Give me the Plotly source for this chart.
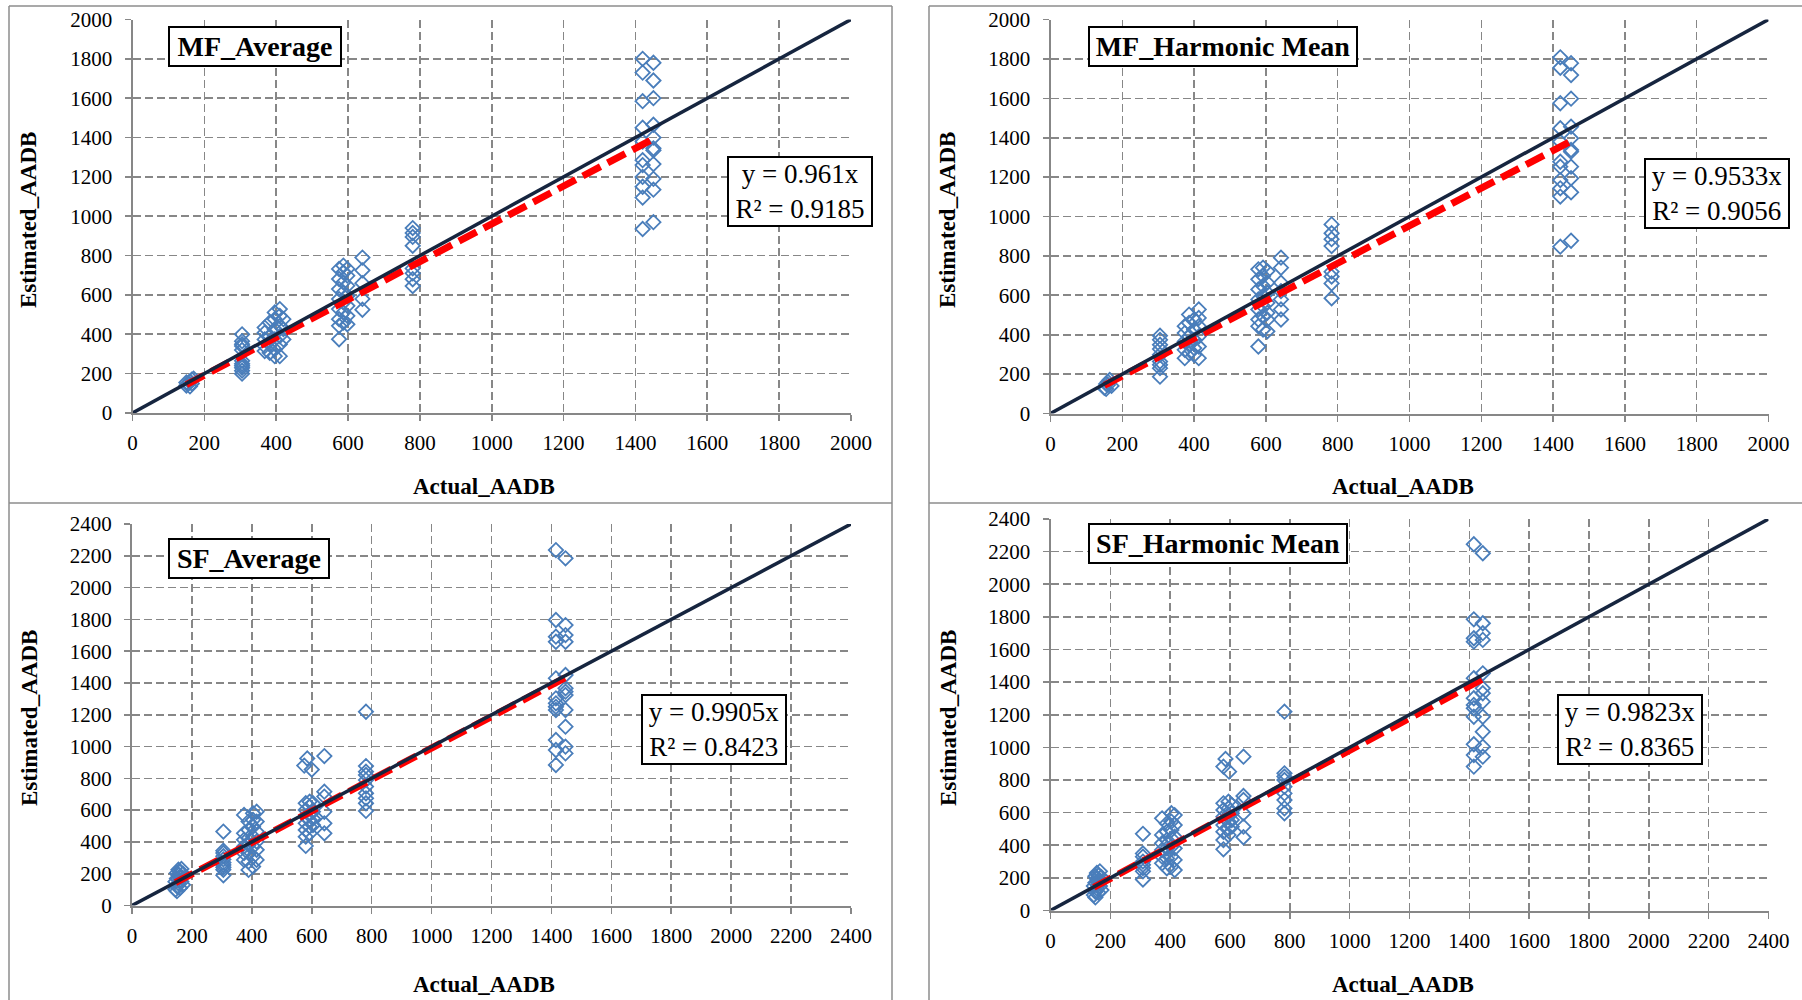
import plotly.graph_objects as go

W, H = 1802, 1000

# ---------------- DATA ----------------
titles = ["MF_Average", "MF_Harmonic Mean", "SF_Average", "SF_Harmonic Mean"]
slopes = [0.961, 0.9533, 0.9905, 0.9823]
r2_values = [0.9185, 0.9056, 0.8423, 0.8365]
axis_max = [2000, 2000, 2400, 2400]

mf_avg_x = ([150, 155, 160, 165, 150, 160, 170, 165]
            + [305] * 11
            + [368] * 5 + [382] * 4 + [396] * 6 + [410] * 6 + [420] * 3
            + [575] * 8 + [587] * 7 + [598] * 7
            + [640] * 5 + [780] * 8 + [1420] * 11 + [1450] * 11)
mf_avg_y = ([140, 150, 160, 170, 155, 135, 175, 150]
            + [400, 365, 350, 340, 320, 265, 250, 240, 230, 215, 200]
            + [434, 408, 374, 340, 315] + [460, 391, 349, 306]
            + [511, 477, 426, 374, 323, 289] + [528, 494, 443, 391, 349, 289] + [477, 426, 374]
            + [732, 681, 630, 579, 528, 477, 443, 375] + [749, 715, 664, 613, 562, 511, 460]
            + [732, 698, 647, 596, 545, 494, 451]
            + [790, 725, 660, 580, 525] + [940, 915, 895, 850, 735, 710, 680, 645]
            + [1800, 1730, 1585, 1450, 1380, 1285, 1260, 1200, 1150, 1095, 935]
            + [1780, 1690, 1600, 1465, 1400, 1345, 1335, 1265, 1190, 1135, 970])

mf_hm_x = ([150, 155, 160, 165, 170, 155, 160]
           + [305] * 9
           + [374] * 5 + [386] * 5 + [400] * 5 + [413] * 6
           + [579] * 8 + [592] * 7 + [604] * 7
           + [642] * 7 + [783] * 8 + [1420] * 11 + [1450] * 11)
mf_hm_y = ([130, 150, 160, 170, 140, 125, 145]
           + [395, 374, 349, 327, 298, 264, 247, 230, 187]
           + [443, 408, 366, 323, 281] + [502, 460, 391, 349, 306]
           + [477, 426, 374, 332, 298] + [528, 485, 443, 391, 340, 281]
           + [732, 681, 630, 579, 528, 477, 443, 340] + [740, 698, 647, 596, 545, 494, 426]
           + [723, 664, 613, 562, 511, 477, 417]
           + [791, 740, 664, 621, 579, 528, 477] + [960, 915, 885, 850, 720, 695, 660, 585]
           + [1808, 1755, 1575, 1448, 1380, 1278, 1253, 1185, 1143, 1101, 847]
           + [1778, 1718, 1598, 1456, 1397, 1338, 1329, 1253, 1194, 1123, 877])

sf_avg_x = ([145, 150, 155, 160, 165, 170, 145, 150, 155, 160, 165, 170, 150, 160, 165, 155, 150, 160]
            + [305] * 10
            + [374] * 6 + [389] * 7 + [404] * 7 + [416] * 6
            + [585, 575, 600] + [580] * 7 + [593] * 6 + [604] * 4
            + [642] * 6 + [781] * 10 + [1415] * 12 + [1447] * 12)
sf_avg_y = ([100, 120, 140, 160, 180, 200, 150, 170, 190, 210, 230, 130, 90, 110, 150, 225, 205, 175]
            + [465, 345, 330, 310, 290, 270, 255, 240, 225, 190]
            + [570, 454, 413, 371, 329, 287] + [528, 475, 423, 381, 329, 276, 224]
            + [580, 538, 496, 433, 371, 308, 245] + [590, 528, 465, 402, 350, 287]
            + [925, 880, 855] + [643, 601, 559, 517, 475, 433, 375]
            + [653, 622, 580, 538, 496, 454] + [643, 590, 547, 506]
            + [940, 716, 685, 590, 517, 454]
            + [1219, 877, 842, 821, 789, 748, 706, 674, 643, 595]
            + [2236, 1796, 1691, 1659, 1429, 1303, 1272, 1250, 1230, 1041, 978, 884]
            + [2184, 1764, 1701, 1659, 1450, 1366, 1345, 1324, 1230, 1125, 999, 957])

sf_hm_x = ([145, 150, 155, 160, 165, 170, 145, 150, 155, 160, 165, 170, 150, 160, 165, 155, 150, 160]
           + [309] * 8
           + [373] * 6 + [389] * 6 + [404] * 7 + [415] * 6
           + [585, 578, 597] + [578] * 7 + [595] * 6 + [606] * 4
           + [645] * 6 + [782] * 9 + [1415] * 12 + [1445] * 12)
sf_hm_y = ([95, 115, 135, 160, 185, 205, 150, 170, 195, 215, 240, 125, 80, 110, 150, 230, 210, 175]
           + [470, 350, 330, 300, 280, 260, 240, 190]
           + [565, 463, 412, 371, 330, 289] + [534, 483, 432, 381, 320, 259]
           + [596, 545, 493, 442, 391, 330, 269] + [585, 524, 452, 381, 310, 248]
           + [929, 882, 851] + [657, 616, 575, 524, 483, 432, 375]
           + [667, 626, 585, 545, 504, 463] + [647, 596, 555, 514]
           + [943, 702, 678, 596, 514, 449]
           + [1219, 841, 821, 800, 759, 718, 677, 626, 596]
           + [2245, 1785, 1669, 1648, 1424, 1301, 1260, 1240, 1188, 1019, 953, 882]
           + [2190, 1761, 1700, 1659, 1454, 1362, 1332, 1280, 1188, 1096, 1004, 943])

xs = [mf_avg_x, mf_hm_x, sf_avg_x, sf_hm_x]
ys = [mf_avg_y, mf_hm_y, sf_avg_y, sf_hm_y]

# ---------------- LAYOUT (pixel positions) ----------------
# plot areas: (left, right, top, bottom)
areas = [(132.5, 851, 19.5, 413), (1050.5, 1768.5, 19.5, 413.5),
         (132, 851, 524, 905.5), (1050.5, 1768.5, 519, 910.5)]
title_pos = [(168, 26), (1088, 26), (168, 538), (1088, 523)]
title_w = [164, 260, 152, 250]
eq_pos = [(727, 156), (1644, 158), (641, 694), (1557, 694)]
xtitle_pos = [(484, 486), (1403, 486), (484, 984), (1403, 984)]
ytitle_pos = [(29, 220), (948, 220), (29, 718), (948, 718)]

SERIF = "Liberation Serif"
GRID = "#878787"

def px(x):
    return x / W

def py(y):
    return 1 - y / H

fig = go.Figure()
layout = dict(
    width=W, height=H, margin=dict(l=0, r=0, t=0, b=0, autoexpand=False),
    paper_bgcolor="white", plot_bgcolor="white", showlegend=False,
    font=dict(family=SERIF, color="black"), hovermode=False,
)
annotations = []
shapes = []

for i in range(4):
    ax = "" if i == 0 else str(i + 1)
    xa, ya = "x" + ax, "y" + ax
    l, r, t, b = areas[i]
    m = axis_max[i]
    axis_common = dict(
        range=[0, m], dtick=200, tick0=0, showgrid=True, gridcolor=GRID,
        gridwidth=1.6, griddash="8px,4px", zeroline=False, showline=True,
        linecolor=GRID, linewidth=2, ticks="outside", ticklen=6, tickwidth=1.6,
        tickcolor=GRID, tickfont=dict(family=SERIF, size=21, color="black"),
        fixedrange=True, automargin=False,
    )
    layout["xaxis" + ax] = dict(axis_common, domain=[px(l), px(r)], anchor=ya,
                                ticklabelstandoff=4)
    layout["yaxis" + ax] = dict(axis_common, domain=[py(b), py(t)], anchor=xa,
                                ticklabelstandoff=8)

    fig.add_trace(go.Scatter(
        x=xs[i], y=ys[i], mode="markers", xaxis=xa, yaxis=ya,
        marker=dict(symbol="diamond-open", size=11, color="#4A7EBB",
                    line=dict(width=1.8, color="#4A7EBB")),
    ))
    xmin, xmax = min(xs[i]), max(xs[i])
    fig.add_trace(go.Scatter(
        x=[xmin, xmax], y=[slopes[i] * xmin, slopes[i] * xmax], mode="lines",
        xaxis=xa, yaxis=ya, line=dict(color="#FF0000", width=7, dash="20px,8px"),
    ))
    fig.add_trace(go.Scatter(
        x=[0, m], y=[0, m], mode="lines", xaxis=xa, yaxis=ya,
        line=dict(color="#16253F", width=3.5),
    ))

    tx, ty = title_pos[i]
    annotations.append(dict(
        xref="paper", yref="paper", x=px(tx), y=py(ty), xanchor="left", yanchor="top",
        text="<b>%s</b>" % titles[i], showarrow=False, width=title_w[i],
        font=dict(family=SERIF, size=28, color="black"),
        bordercolor="black", borderwidth=2, borderpad=3, bgcolor="white",
    ))
    ex, ey = eq_pos[i]
    annotations.append(dict(
        xref="paper", yref="paper", x=px(ex), y=py(ey), xanchor="left", yanchor="top",
        text="y = %sx<br>R² = %s" % (slopes[i], r2_values[i]), showarrow=False,
        align="center", valign="middle", width=138, height=63,
        font=dict(family=SERIF, size=27, color="black"),
        bordercolor="black", borderwidth=2, borderpad=2, bgcolor="white",
    ))
    xtx, xty = xtitle_pos[i]
    annotations.append(dict(
        xref="paper", yref="paper", x=px(xtx), y=py(xty), xanchor="center", yanchor="middle",
        text="<b>Actual_AADB</b>", showarrow=False,
        font=dict(family=SERIF, size=23, color="black"),
    ))
    ytx, yty = ytitle_pos[i]
    annotations.append(dict(
        xref="paper", yref="paper", x=px(ytx), y=py(yty), xanchor="center", yanchor="middle",
        text="<b>Estimated_AADB</b>", showarrow=False, textangle=-90,
        font=dict(family=SERIF, size=23, color="black"),
    ))

# panel borders
border_lines = [
    (9, 6, 892, 6), (9, 6, 9, 1000), (892, 6, 892, 1000), (9, 503, 892, 503),
    (929, 6, 1802, 6), (929, 6, 929, 1000), (929, 503, 1802, 503),
]
for x0, y0, x1, y1 in border_lines:
    shapes.append(dict(type="line", xref="paper", yref="paper",
                       x0=px(x0), y0=py(y0), x1=px(x1), y1=py(y1),
                       line=dict(color="#8c8c8c", width=1.5)))

layout["annotations"] = annotations
layout["shapes"] = shapes
fig.update_layout(**layout)
fig.write_html(
    "out.html",
    config={"displayModeBar": False, "staticPlot": True},
    post_script="document.body.style.margin='0px';document.body.style.overflow='hidden';",
)
